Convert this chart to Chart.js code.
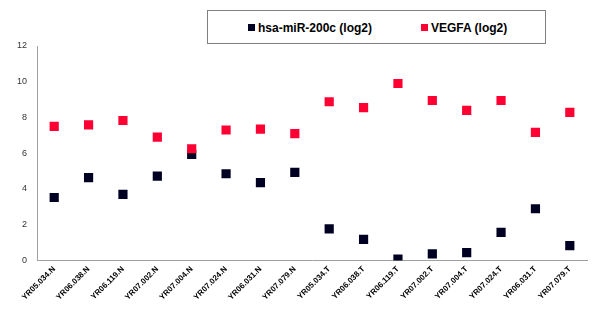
<!DOCTYPE html>
<html>
<head>
<meta charset="utf-8">
<script src="https://cdn.jsdelivr.net/npm/chart.js@4/dist/chart.umd.min.js"></script>
<style>
    body { margin: 0; background: #fff; }
    #wrap { position: relative; width: 600px; height: 334px; }
    #legend {
        position: absolute; left: 207px; top: 10px; width: 339px; height: 34px;
        border: 1px solid #808080; box-sizing: border-box; background: #fff;
        font: bold 12px "Liberation Sans", Arial, sans-serif; color: #000;
    }
    #legend span { position: absolute; top: 10px; white-space: nowrap; }
    #legend i { display: inline-block; width: 7px; height: 7px; margin-right: 3px; vertical-align: 1px; }
</style>
</head>
<body>
<div id="wrap">
    <canvas id="chart-mir-vegfa" width="600" height="334"></canvas>
    <div id="legend">
        <span style="left:40px"><i style="background:#000022"></i>hsa-miR-200c (log2)</span>
        <span style="left:213px"><i style="background:#ff0033"></i>VEGFA (log2)</span>
    </div>
</div>
<script>
const samples = ['YR05.034.N', 'YR06.038.N', 'YR06.119.N', 'YR07.002.N', 'YR07.004.N', 'YR07.024.N', 'YR06.031.N', 'YR07.079.N',
    'YR05.034.T', 'YR06.038.T', 'YR06.119.T', 'YR07.002.T', 'YR07.004.T', 'YR07.024.T', 'YR06.031.T', 'YR07.079.T'];
const mir200c = [3.52, 4.63, 3.69, 4.72, 5.93, 4.85, 4.35, 4.93, 1.76, 1.18, 0.07, 0.37, 0.43, 1.57, 2.89, 0.83];
const vegfa = [7.5, 7.58, 7.83, 6.9, 6.25, 7.3, 7.35, 7.1, 8.88, 8.55, 9.9, 8.95, 8.4, 8.95, 7.17, 8.28];
const yTicks = [0, 2, 4, 6, 8, 10, 12];

const marker = color => ({
    borderColor: color,
    backgroundColor: color,
    pointStyle: 'rect',
    pointRadius: 6.5,
    pointHoverRadius: 6.5,
    pointBorderWidth: 0,
    showLine: false,
});

new Chart(document.getElementById('chart-mir-vegfa'), {
    type: 'line',
    data: {
        labels: samples,
        datasets: [
            Object.assign({ label: 'VEGFA (log2)', data: vegfa }, marker('#ff0033')),
            Object.assign({ label: 'hsa-miR-200c (log2)', data: mir200c }, marker('#000022')),
        ]
    },
    options: {
        responsive: false,
        animation: false,
        layout: { padding: { top: 46, right: 13, left: 11, bottom: 32 } },
        plugins: { legend: { display: false }, tooltip: { enabled: false } },
        scales: {
            x: {
                offset: true,
                grid: { display: false, offset: true, drawTicks: true, tickLength: 4, color: '#a0a0a0' },
                border: { color: '#a0a0a0', width: 1 },
                ticks: {
                    maxRotation: 45, minRotation: 45, autoSkip: false,
                    color: '#000', font: { family: 'Liberation Sans', size: 8, weight: 'bold' }, padding: 0
                },
            },
            y: {
                min: 0, max: 12,
                afterBuildTicks: axis => { axis.ticks = yTicks.map(v => ({ value: v })); },
                grid: { display: false, drawTicks: true, tickLength: 4, color: '#a0a0a0' },
                border: { color: '#a0a0a0', width: 1 },
                ticks: { color: '#333', font: { family: 'Liberation Sans', size: 9 }, padding: 6 },
            }
        }
    }
});
</script>
</body>
</html>
